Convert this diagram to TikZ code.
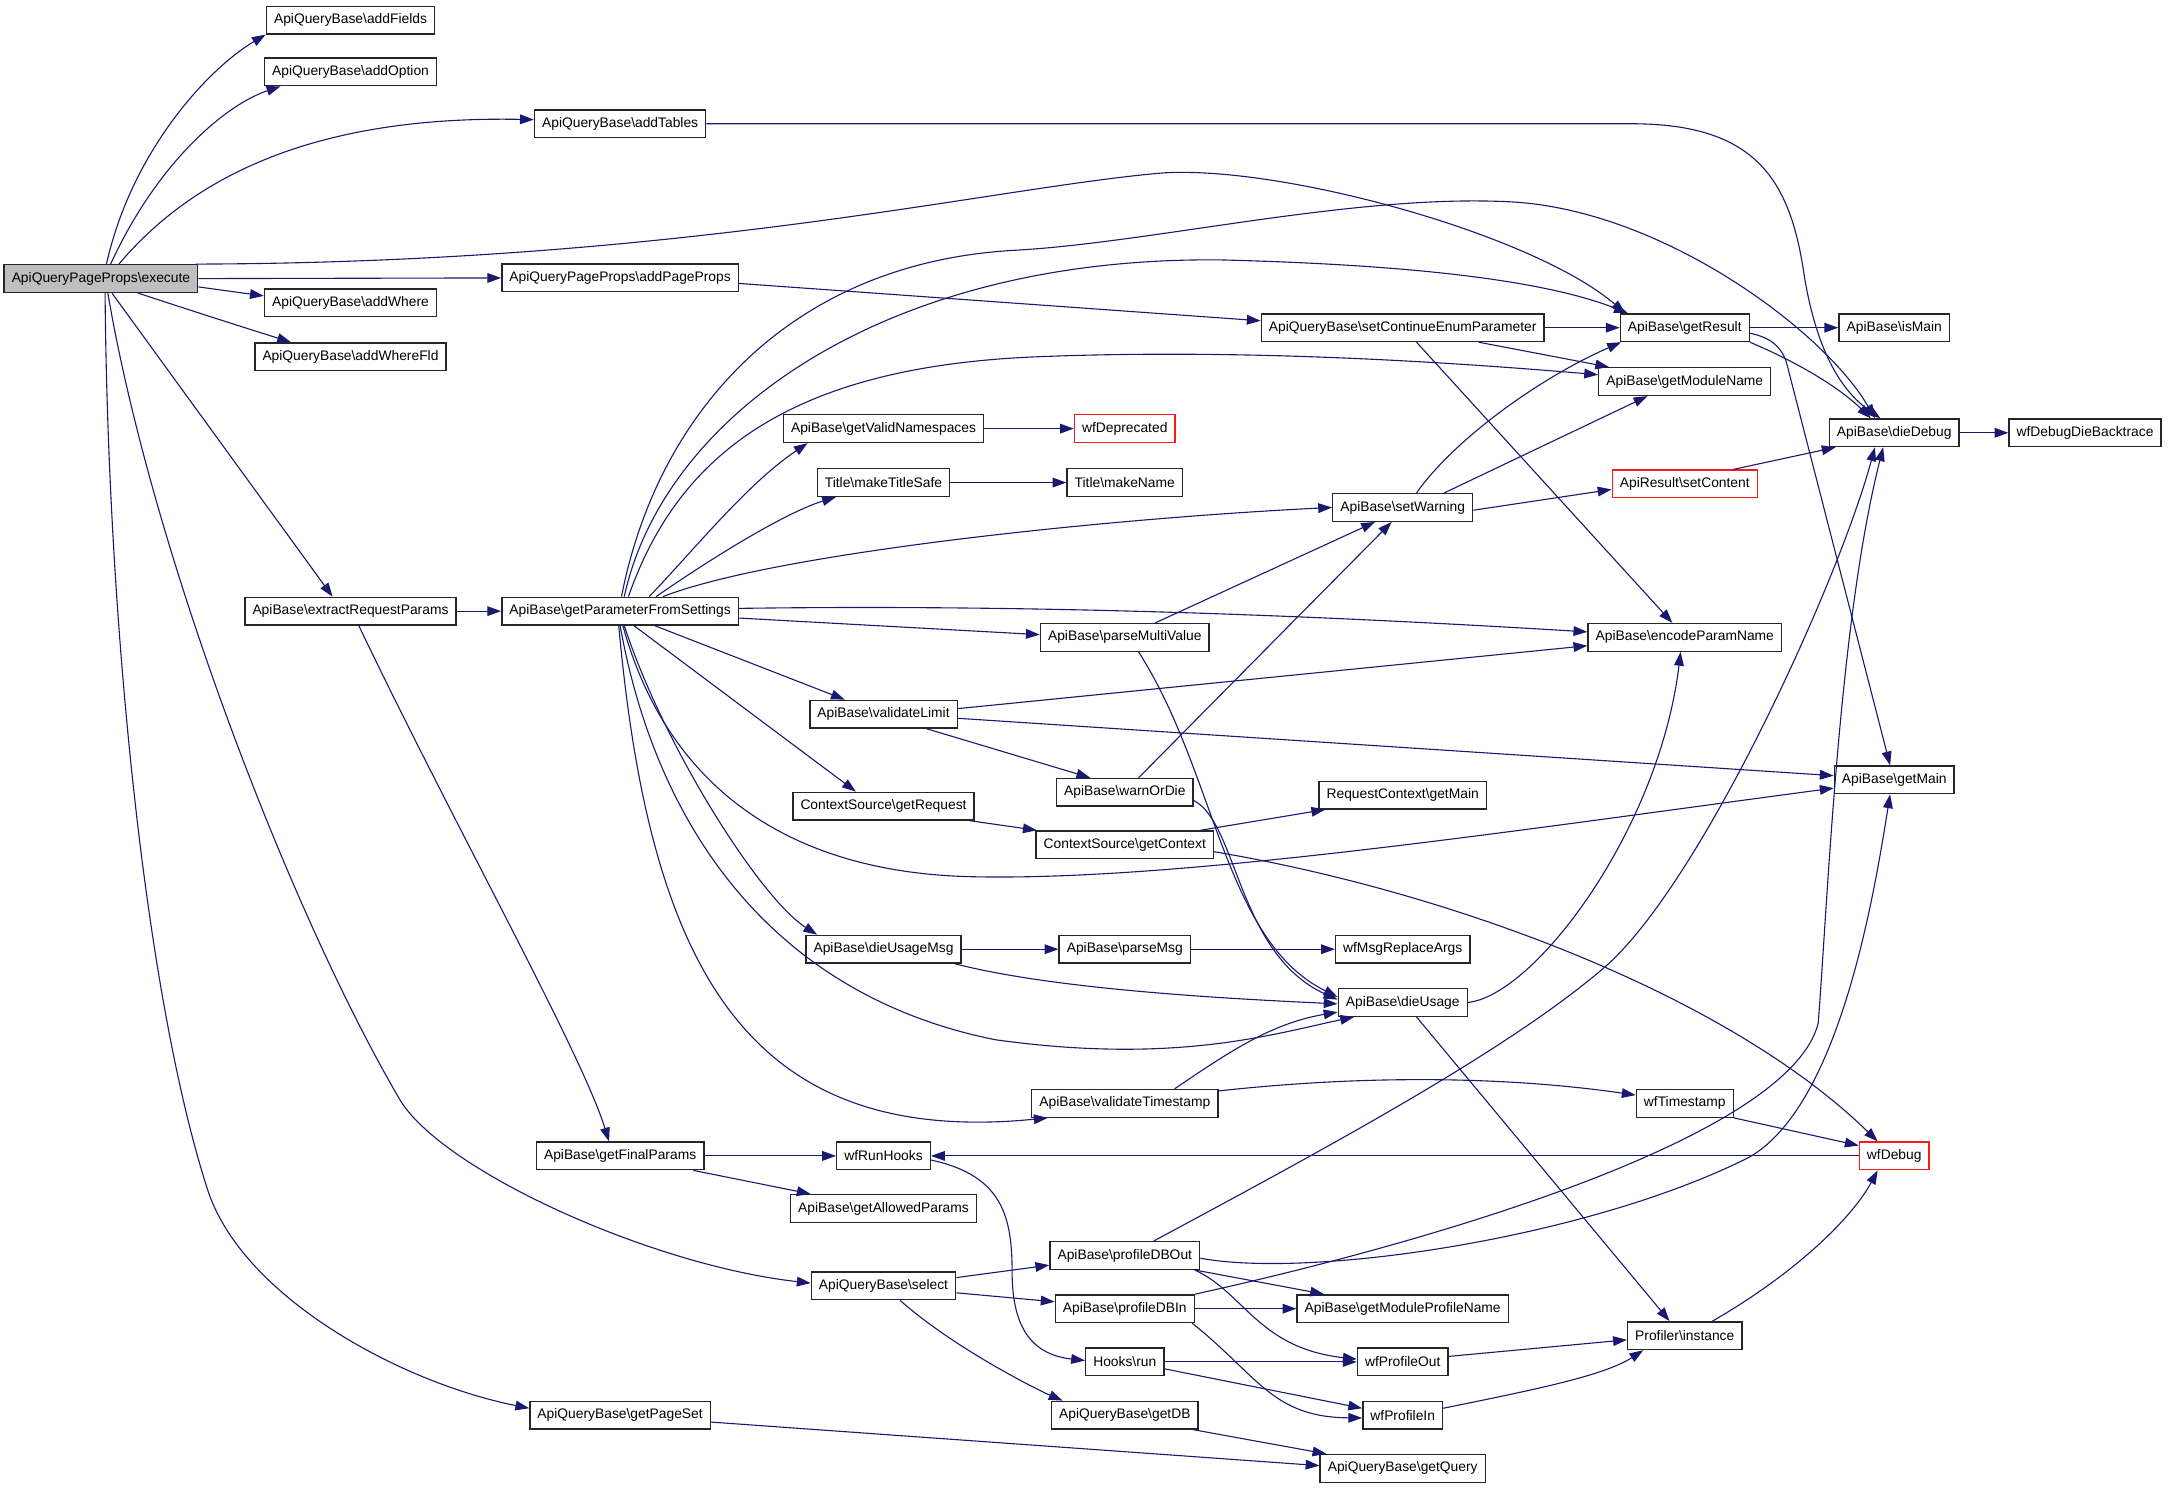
\documentclass[tikz,border=0pt]{standalone}
\usepackage{fontspec}
\setmainfont{Liberation Sans}
\usetikzlibrary{arrows.meta}
\definecolor{edgeblue}{HTML}{191970}
\definecolor{rootgray}{HTML}{BFBFBF}
\newcommand{\bsl}{\textbackslash}
\tikzset{
  fn/.style={draw=black!85, line width=1pt, fill=white, minimum height=20pt,
    inner xsep=5.5pt, inner ysep=0pt, font=\fontsize{10}{12}\selectfont},
  fnroot/.style={fn, fill=rootgray},
  fnred/.style={fn, draw=red!90},
  call/.style={draw=edgeblue, line width=0.8pt, -{Triangle[length=10pt,width=7pt]}},
}
\begin{document}
\begin{tikzpicture}[x=1pt, y=-1pt]
\useasboundingbox (0,0) rectangle (1568,1077);
\node[fnroot] (execute) at (73,201.5) {ApiQueryPageProps\bsl execute};
\node[fn] (addFields) at (253.5,14.5) {ApiQueryBase\bsl addFields};
\node[fn] (addOption) at (253.5,52) {ApiQueryBase\bsl addOption};
\node[fn] (addTables) at (448.5,89.5) {ApiQueryBase\bsl addTables};
\node[fn] (addPageProps) at (448.5,201) {ApiQueryPageProps\bsl addPageProps};
\node[fn] (addWhere) at (253.5,219) {ApiQueryBase\bsl addWhere};
\node[fn] (addWhereFld) at (253.5,258) {ApiQueryBase\bsl addWhereFld};
\node[fn] (extractParams) at (253.5,442) {ApiBase\bsl extractRequestParams};
\node[fn] (getParams) at (448.5,442) {ApiBase\bsl getParameterFromSettings};
\node[fn] (setContinue) at (1014.5,237) {ApiQueryBase\bsl setContinueEnumParameter};
\node[fn] (getResult) at (1218.5,237) {ApiBase\bsl getResult};
\node[fn] (getModuleName) at (1218.5,276) {ApiBase\bsl getModuleName};
\node[fn] (isMain) at (1370,237) {ApiBase\bsl isMain};
\node[fn] (dieDebug) at (1370,313) {ApiBase\bsl dieDebug};
\node[fn] (dieBacktrace) at (1508,313) {wfDebugDieBacktrace};
\node[fn] (getNamespaces) at (639,310) {ApiBase\bsl getValidNamespaces};
\node[fnred] (wfDeprecated) at (813.5,310) {wfDeprecated};
\node[fn] (makeTitleSafe) at (639,349) {Title\bsl makeTitleSafe};
\node[fn] (makeName) at (813.5,349) {Title\bsl makeName};
\node[fn] (setWarning) at (1014.5,367) {ApiBase\bsl setWarning};
\node[fnred] (setContent) at (1218.5,350) {ApiResult\bsl setContent};
\node[fn] (encodeName) at (1218.5,461) {ApiBase\bsl encodeParamName};
\node[fn] (parseMulti) at (813.5,461) {ApiBase\bsl parseMultiValue};
\node[fn] (validateLimit) at (639,516.5) {ApiBase\bsl validateLimit};
\node[fn] (getMain) at (1370,564) {ApiBase\bsl getMain};
\node[fn] (getRequest) at (639,583) {ContextSource\bsl getRequest};
\node[fn] (warnOrDie) at (813.5,573) {ApiBase\bsl warnOrDie};
\node[fn] (ctxGetMain) at (1014.5,575) {RequestContext\bsl getMain};
\node[fn] (getContext) at (813.5,611) {ContextSource\bsl getContext};
\node[fn] (dieUsageMsg) at (639,686.5) {ApiBase\bsl dieUsageMsg};
\node[fn] (parseMsg) at (813.5,686.5) {ApiBase\bsl parseMsg};
\node[fn] (msgReplace) at (1014.5,686.5) {wfMsgReplaceArgs};
\node[fn] (dieUsage) at (1014.5,725) {ApiBase\bsl dieUsage};
\node[fn] (validateTs) at (813.5,798) {ApiBase\bsl validateTimestamp};
\node[fn] (wfTimestamp) at (1218.5,798) {wfTimestamp};
\node[fnred] (wfDebug) at (1370,836) {wfDebug};
\node[fn] (getFinalParams) at (448.5,836) {ApiBase\bsl getFinalParams};
\node[fn] (wfRunHooks) at (639,836) {wfRunHooks};
\node[fn] (getAllowed) at (639,874) {ApiBase\bsl getAllowedParams};
\node[fn] (select) at (639,930) {ApiQueryBase\bsl select};
\node[fn] (profileOut) at (813.5,908) {ApiBase\bsl profileDBOut};
\node[fn] (profileIn) at (813.5,946.5) {ApiBase\bsl profileDBIn};
\node[fn] (getProfileName) at (1014.5,946.5) {ApiBase\bsl getModuleProfileName};
\node[fn] (profInstance) at (1218.5,966) {Profiler\bsl instance};
\node[fn] (hooksRun) at (813.5,985) {Hooks\bsl run};
\node[fn] (wfProfileOut) at (1014.5,985) {wfProfileOut};
\node[fn] (wfProfileIn) at (1014.5,1023.5) {wfProfileIn};
\node[fn] (getPageSet) at (448.5,1023.5) {ApiQueryBase\bsl getPageSet};
\node[fn] (getDB) at (813.5,1023.5) {ApiQueryBase\bsl getDB};
\node[fn] (getQuery) at (1014.5,1062) {ApiQueryBase\bsl getQuery};
% execute
\draw[call] ([xshift=4pt]execute.north) .. controls (95,110) and (150,50) .. (addFields.south west);
\draw[call] ([xshift=7pt]execute.north) .. controls (115,115) and (165,75) .. ([xshift=12pt]addOption.south west);
\draw[call] ([xshift=13pt]execute.north) .. controls (150,115) and (250,84) .. ([yshift=3pt]addTables.west);
\draw[call] ([xshift=-2pt]execute.north east) .. controls (500,190) and (720,135) .. (842,125) .. controls (930,120) and (1110,170) .. ([xshift=4pt]getResult.north west);
\draw[call] (execute.east) -- (addPageProps.west);
\draw[call] ([yshift=-6pt]execute.east) -- ([yshift=5pt]addWhere.west);
\draw[call] ([xshift=27pt]execute.south) .. controls (130,222) and (180,238) .. ([xshift=-43pt]addWhereFld.north);
\draw[call] ([xshift=8pt]execute.south) -- ([xshift=-13pt]extractParams.north);
\draw[call] ([xshift=5pt]execute.south) .. controls (110,400) and (210,660) .. (289,795) .. controls (319,846) and (470,915) .. ([yshift=2pt]select.west);
\draw[call] ([xshift=3pt]execute.south) .. controls (78,450) and (105,720) .. (150,860) .. controls (175,938) and (290,1000) .. ([yshift=5pt]getPageSet.west);
\draw[call] (addTables.east) -- (1180,89.5) .. controls (1270,89.5) and (1295,130) .. (1305,200) .. controls (1315,260) and (1335,285) .. ([xshift=-10pt]dieDebug.north);
\draw[call] ([yshift=-4pt]addPageProps.east) -- ([yshift=5pt]setContinue.west);
\draw[call] (extractParams.east) -- (getParams.west);
\draw[call] ([xshift=6pt]extractParams.south) .. controls (330,600) and (420,760) .. ([xshift=-8pt]getFinalParams.north);
% getParameterFromSettings
\draw[call] ([xshift=3pt]getParams.north) .. controls (480,300) and (640,185) .. (884,188) .. controls (1000,191) and (1110,200) .. ([xshift=6pt]getResult.north west);
\draw[call] ([xshift=1pt]getParams.north) .. controls (475,300) and (570,190) .. (734,181) .. controls (834,175.5) and (980,140) .. (1093,146) .. controls (1203,152) and (1320,240) .. ([xshift=-14pt]dieDebug.north);
\draw[call] ([xshift=6pt]getParams.north) .. controls (490,330) and (570,265) .. (751,258) .. controls (900,252) and (1050,262) .. ([yshift=5pt]getModuleName.west);
\draw[call] ([xshift=21pt]getParams.north) .. controls (500,400) and (540,350) .. ([xshift=18pt]getNamespaces.south west);
\draw[call] ([xshift=26pt]getParams.north) .. controls (520,400) and (570,370) .. ([xshift=14pt]makeTitleSafe.south west);
\draw[call] ([xshift=31pt]getParams.north) .. controls (560,400) and (800,375) .. (setWarning.west);
\draw[call] ([yshift=2pt]getParams.east) .. controls (750,437) and (950,445) .. ([yshift=4pt]encodeName.west);
\draw[call] ([yshift=-5pt]getParams.east) -- ([yshift=2pt]parseMulti.west);
\draw[call] ([xshift=25pt]getParams.south) -- ([xshift=-28pt]validateLimit.north);
\draw[call] ([xshift=10pt]getParams.south) -- ([xshift=-20pt]getRequest.north);
\draw[call] ([xshift=3pt]getParams.south) .. controls (480,540) and (550,650) .. ([xshift=-48pt]dieUsageMsg.north);
\draw[call] ([xshift=2pt]getParams.south) .. controls (480,560) and (560,630) .. (700,634) .. controls (850,638) and (1100,600) .. ([yshift=-6pt]getMain.west);
\draw[call] (getParams.south) .. controls (475,600) and (560,720) .. (720,752) .. controls (850,770) and (920,748) .. ([xshift=12pt]dieUsage.south west);
\draw[call] ([xshift=-1pt]getParams.south) .. controls (470,700) and (540,830) .. ([xshift=12pt]validateTs.south west);
% right part
\draw[call] (setContinue.east) -- (getResult.west);
\draw[call] ([xshift=55pt]setContinue.south) -- ([xshift=8pt]getModuleName.north west);
\draw[call] ([xshift=10pt]setContinue.south) -- ([xshift=-9pt]encodeName.north);
\draw[call] (getResult.east) -- (isMain.west);
\draw[call] (getResult.south east) .. controls (1300,262) and (1330,280) .. ([xshift=-17pt]dieDebug.north);
\draw[call] ([yshift=-4pt]getResult.east) .. controls (1280,244) and (1288,250) .. (1292,262) -- ([xshift=-3pt]getMain.north);
\draw[call] (dieDebug.east) -- (dieBacktrace.west);
\draw[call] (getNamespaces.east) -- (wfDeprecated.west);
\draw[call] (makeTitleSafe.east) -- (makeName.west);
\draw[call] ([xshift=10pt]setWarning.north) .. controls (1050,320) and (1110,275) .. ([xshift=1pt]getResult.south west);
\draw[call] ([xshift=30pt]setWarning.north) -- ([xshift=-27pt]getModuleName.south);
\draw[call] ([yshift=-2pt]setWarning.east) -- ([yshift=-4pt]setContent.west);
\draw[call] ([xshift=35pt]setContent.north) -- ([xshift=5pt]dieDebug.south west);
\draw[call] ([xshift=22pt]parseMulti.north) -- ([xshift=-20pt]setWarning.south);
\draw[call] ([xshift=10pt]parseMulti.south) .. controls (880,560) and (885,680) .. ([yshift=4pt]dieUsage.west);
\draw[call] ([xshift=10pt]warnOrDie.north) -- ([xshift=-8pt]setWarning.south);
\draw[call] ([yshift=-6pt]warnOrDie.east) .. controls (895,595) and (895,690) .. ([yshift=2pt]dieUsage.west);
\draw[call] ([yshift=4pt]validateLimit.east) -- ([yshift=-6pt]encodeName.west);
\draw[call] ([yshift=-3pt]validateLimit.east) -- ([yshift=3pt]getMain.west);
\draw[call] ([xshift=31pt]validateLimit.south) -- ([xshift=-25pt]warnOrDie.north);
\draw[call] ([xshift=-4pt]getRequest.south east) -- ([xshift=1pt]getContext.north west);
\draw[call] ([xshift=-10pt]getContext.north east) -- ([xshift=5pt]ctxGetMain.south west);
\draw[call] ([yshift=-5pt]getContext.east) .. controls (1050,645) and (1250,720) .. ([xshift=-12pt]wfDebug.north);
\draw[call] (dieUsageMsg.east) -- (parseMsg.west);
\draw[call] ([xshift=-5pt]dieUsageMsg.south east) .. controls (760,715) and (880,722) .. ([yshift=-1pt]dieUsage.west);
\draw[call] (parseMsg.east) -- (msgReplace.west);
\draw[call] (dieUsage.east) .. controls (1110,720) and (1200,600) .. ([xshift=-3pt]encodeName.south);
\draw[call] ([xshift=10pt]dieUsage.south) -- ([xshift=-11pt]profInstance.north);
\draw[call] ([xshift=36pt]validateTs.north) .. controls (890,760) and (920,740) .. ([yshift=-7pt]dieUsage.west);
\draw[call] ([yshift=9pt]validateTs.east) .. controls (1000,776) and (1100,780) .. ([yshift=6pt]wfTimestamp.west);
\draw[call] (wfTimestamp.south east) -- ([yshift=-3pt]wfDebug.north west);
\draw[call] (wfDebug.west) -- (wfRunHooks.east);
% lower part
\draw[call] (getFinalParams.east) -- (wfRunHooks.west);
\draw[call] ([xshift=-8pt]getFinalParams.south east) -- ([xshift=15pt]getAllowed.north west);
\draw[call] ([yshift=-3pt]wfRunHooks.east) .. controls (725,850) and (732,880) .. (732,920) .. controls (732,965) and (750,980) .. ([yshift=1pt]hooksRun.west);
\draw[call] ([yshift=6pt]select.east) -- ([yshift=-7pt]profileOut.west);
\draw[call] ([yshift=-5pt]select.east) -- ([yshift=5pt]profileIn.west);
\draw[call] ([xshift=12pt]select.south) .. controls (690,975) and (750,1005) .. ([xshift=-45pt]getDB.north);
\draw[call] ([xshift=21pt]profileOut.north) .. controls (960,830) and (1090,760) .. (1160,700) .. controls (1230,640) and (1330,420) .. ([xshift=-14pt]dieDebug.south);
\draw[call] (profileIn.north east) .. controls (1050,895) and (1295,820) .. (1315,740) .. controls (1322,650) and (1330,450) .. ([xshift=-8pt]dieDebug.south);
\draw[call] ([yshift=-2pt]profileOut.east) .. controls (950,925) and (1150,895) .. (1265,837) .. controls (1330,800) and (1355,650) .. ([xshift=-3pt]getMain.south);
\draw[call] ([xshift=-4pt]profileOut.south east) -- ([xshift=20pt]getProfileName.north west);
\draw[call] ([xshift=-4pt]profileOut.south east) .. controls (900,935) and (910,975) .. ([yshift=2pt]wfProfileOut.west);
\draw[call] (profileIn.east) -- (getProfileName.west);
\draw[call] ([xshift=-2pt]profileIn.south east) .. controls (910,995) and (920,1025) .. ([yshift=-2pt]wfProfileIn.west);
\draw[call] (hooksRun.east) -- (wfProfileOut.west);
\draw[call] ([yshift=-5pt]hooksRun.east) -- ([yshift=5pt]wfProfileIn.west);
\draw[call] ([yshift=4pt]wfProfileOut.east) -- ([yshift=-3pt]profInstance.west);
\draw[call] ([yshift=5pt]wfProfileIn.east) .. controls (1110,1005) and (1160,995) .. ([xshift=-30pt]profInstance.south);
\draw[call] ([xshift=20pt]profInstance.north) .. controls (1300,920) and (1340,880) .. ([xshift=-12pt]wfDebug.south);
\draw[call] ([yshift=-5pt]getPageSet.east) -- ([yshift=2pt]getQuery.west);
\draw[call] ([xshift=-4pt]getDB.south east) -- ([xshift=5pt]getQuery.north west);
\end{tikzpicture}
\end{document}
